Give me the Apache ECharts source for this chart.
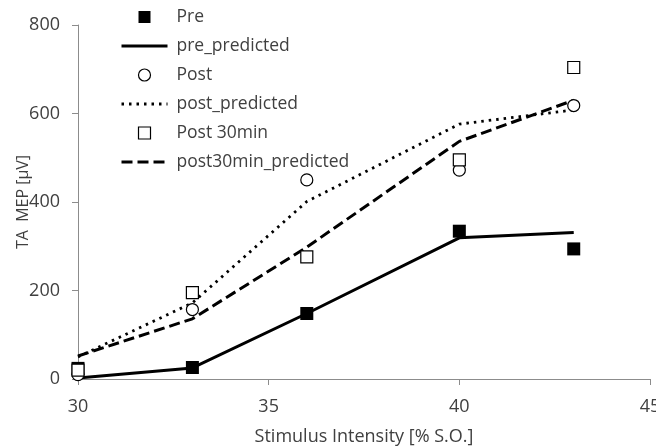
<!DOCTYPE html>
<html>
<head>
<meta charset="utf-8">
<script src="https://cdn.jsdelivr.net/npm/echarts@6/dist/echarts.min.js"></script>
<style>
  html, body { margin: 0; padding: 0; background: #fff; }
  #chart { width: 656px; height: 446px; }
</style>
</head>
<body>
<div id="chart"></div>
<script>
// Stimulus intensities (% of stimulator output)
var intensities = [30, 33, 36, 40, 43];

// Measured TA MEP amplitudes (µV) and model predictions
var pre = [24, 26, 148, 334, 294];
var prePredicted = [2, 25, 148, 319, 331];
var post = [10, 157, 450, 472, 618];
var postPredicted = [50, 172, 401, 576, 608];
var post30 = [20, 195, 276, 495, 704];
var post30Predicted = [52, 136, 298, 537, 630];

var xTicks = [30, 35, 40, 45];
var yTicks = [0, 200, 400, 600, 800];

function pairs(values) {
  return intensities.map(function (x, i) { return [x, values[i]]; });
}

var FONT = '"Open Sans", sans-serif';
var TEXT = '#404040';
var AXIS = '#8c8c8c';
var SQUARE = 'path://M0,0H10V10H0Z';
var DOTS = [2.5, 5];
var DASHES = [11, 5];
// legend entries for the fitted curves show only the stroke, no marker
var LINE_ONLY = { color: 'rgba(0,0,0,0)', borderColor: 'rgba(0,0,0,0)', borderWidth: 0, opacity: 0 };

function scatter(name, values, symbol, filled, size) {
  return {
    name: name,
    type: 'scatter',
    z: 5,
    symbol: symbol,
    symbolSize: size,
    data: pairs(values),
    itemStyle: filled
      ? { color: '#000', borderColor: '#000', borderWidth: 0, opacity: 1 }
      : { color: '#fff', borderColor: '#000', borderWidth: 1.2, opacity: 1 }
  };
}

function line(name, values, dash, width) {
  return {
    name: name,
    type: 'line',
    z: 3,
    symbol: 'none',
    showSymbol: false,
    data: pairs(values),
    itemStyle: { color: '#000' },
    lineStyle: { color: '#000', width: width, type: dash, cap: 'butt' }
  };
}

var chart = echarts.init(document.getElementById('chart'), null, { renderer: 'canvas' });

chart.setOption({
  animation: false,
  backgroundColor: '#fff',
  textStyle: { fontFamily: FONT },
  grid: { left: 78, right: 6, top: 25, bottom: 67, containLabel: false, outerBoundsMode: 'none' },
  legend: {
    orient: 'vertical',
    left: 120,
    top: 5,
    padding: 0,
    itemWidth: 46,
    itemHeight: 12,
    itemGap: 5,
    symbolKeepAspect: true,
    textStyle: { color: TEXT, fontSize: 17.5, fontFamily: FONT, lineHeight: 24, padding: [0, 0, 0, 4] },
    data: [
      { name: 'Pre', icon: SQUARE, itemStyle: { color: '#000', borderWidth: 0 } },
      { name: 'pre_predicted', itemStyle: LINE_ONLY, lineStyle: { width: 3, type: 'solid', color: '#000' } },
      { name: 'Post', icon: 'circle', itemStyle: { color: '#fff', borderColor: '#000', borderWidth: 1.2 } },
      { name: 'post_predicted', itemStyle: LINE_ONLY, lineStyle: { width: 2.8, type: DOTS, color: '#000' } },
      { name: 'Post 30min', icon: SQUARE, itemStyle: { color: '#fff', borderColor: '#000', borderWidth: 1.2 } },
      { name: 'post30min_predicted', itemStyle: LINE_ONLY, lineStyle: { width: 3, type: DASHES, color: '#000' } }
    ]
  },
  xAxis: {
    type: 'value',
    min: xTicks[0],
    max: xTicks[xTicks.length - 1],
    interval: xTicks[1] - xTicks[0],
    name: 'Stimulus Intensity [% S.O.]',
    nameLocation: 'middle',
    nameGap: 49,
    nameMoveOverlap: false,
    nameTextStyle: { color: TEXT, fontSize: 18, fontFamily: FONT },
    axisLine: { lineStyle: { color: AXIS, width: 1 } },
    axisTick: { show: true, inside: false, length: 6, lineStyle: { color: AXIS } },
    axisLabel: { color: TEXT, fontSize: 18, margin: 19, fontFamily: FONT, showMaxLabel: true },
    splitLine: { show: false }
  },
  yAxis: {
    type: 'value',
    min: yTicks[0],
    max: yTicks[yTicks.length - 1],
    interval: yTicks[1] - yTicks[0],
    name: 'TA  MEP [µV]',
    nameLocation: 'middle',
    nameRotate: 90,
    nameGap: 47,
    nameMoveOverlap: false,
    nameTextStyle: { color: TEXT, fontSize: 16, fontFamily: FONT },
    axisLine: { show: true, lineStyle: { color: AXIS, width: 1 } },
    axisTick: { show: true, inside: false, length: 6, lineStyle: { color: AXIS } },
    axisLabel: { color: TEXT, fontSize: 18, margin: 18, fontFamily: FONT },
    splitLine: { show: false }
  },
  series: [
    scatter('Pre', pre, 'rect', true, 13),
    line('pre_predicted', prePredicted, 'solid', 3),
    scatter('Post', post, 'circle', false, 12),
    line('post_predicted', postPredicted, DOTS, 2.8),
    scatter('Post 30min', post30, 'rect', false, 12),
    line('post30min_predicted', post30Predicted, DASHES, 3)
  ]
});
</script>
</body>
</html>
